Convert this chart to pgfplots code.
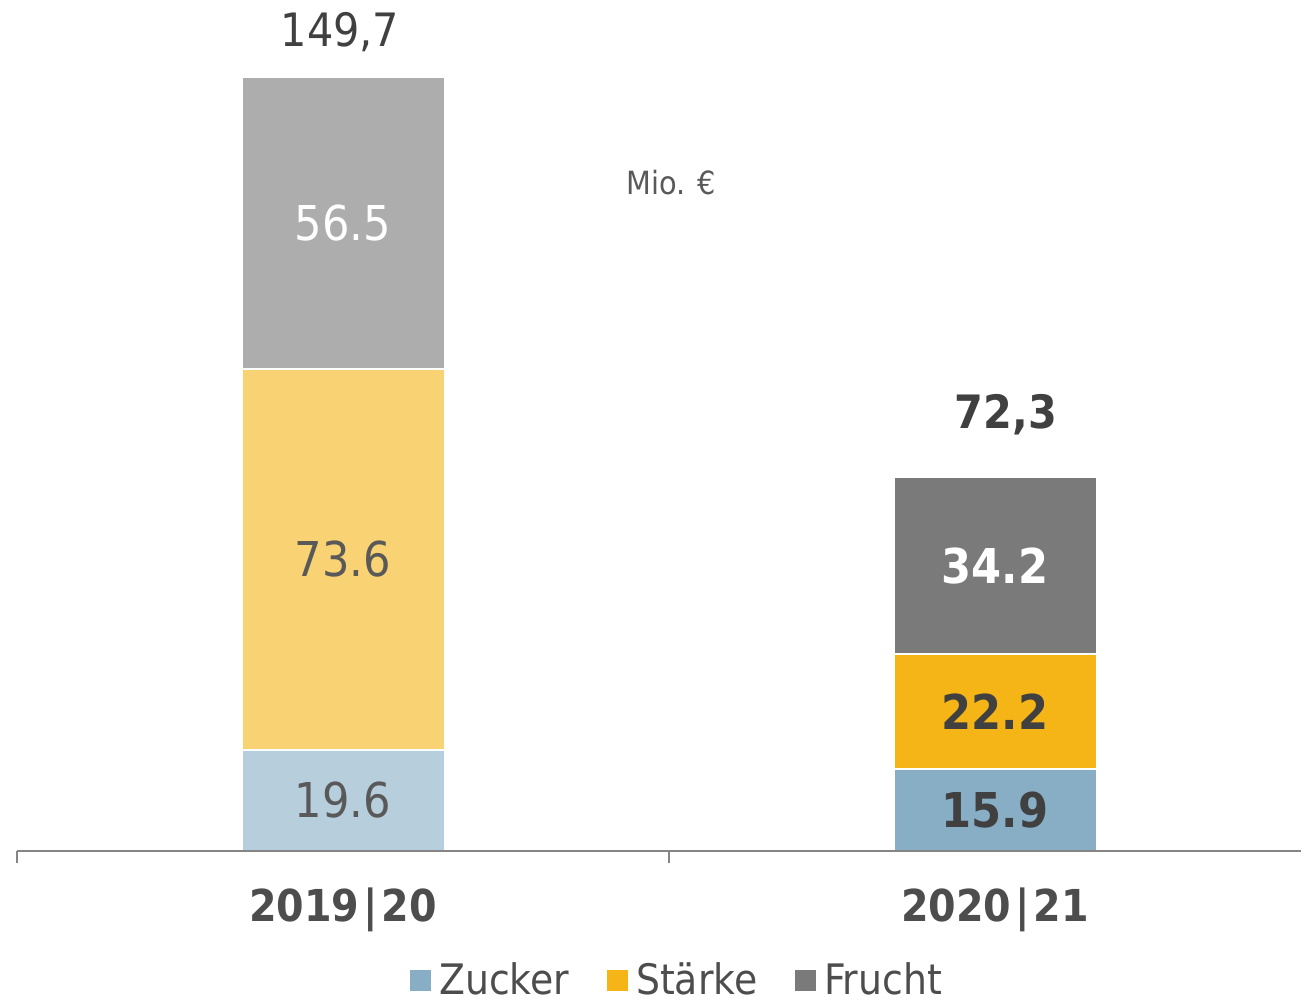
\documentclass[border=0pt]{standalone}
\usepackage{fontspec}
\setmainfont{DejaVu Sans Condensed}
\usepackage{pgfplots}
\pgfplotsset{compat=1.18}
\definecolor{zuckerL}{HTML}{B7CFDC}
\definecolor{staerkeL}{HTML}{F9D273}
\definecolor{fruchtL}{HTML}{ADADAD}
\definecolor{zucker}{HTML}{87AEC5}
\definecolor{staerke}{HTML}{F5B516}
\definecolor{frucht}{HTML}{7A7A7A}
\definecolor{axisgray}{HTML}{858585}
\definecolor{txtgray}{HTML}{595959}
\definecolor{darkgray}{HTML}{404040}
\definecolor{catgray}{HTML}{4D4D4D}
\newcommand{\fs}[1]{\fontsize{#1}{#1}\selectfont}

\begin{document}
\begin{tikzpicture}
\useasboundingbox (-8.5pt,-75.5pt) rectangle (642pt,425.5pt);
\pgfplotsset{chartbox/.style={
  scale only axis, width=652pt, height=425.5pt,
  xmin=-0.5, xmax=1.5, ymin=0, ymax=164.59,
  clip=false, at={(0pt,0pt)}, anchor=south west}}

% 2019|20 bar
\begin{axis}[chartbox, ybar stacked, bar width=101.5pt, hide axis]
\addplot[fill=zuckerL, draw=white, line width=1pt] coordinates {(0,19.6)};
\addplot[fill=staerkeL, draw=white, line width=1pt] coordinates {(0,73.6)};
\addplot[fill=fruchtL, draw=white, line width=1pt] coordinates {(0,56.5)};
\end{axis}

% 2020|21 bar and legend
\begin{axis}[chartbox, ybar stacked, bar width=101.5pt, hide axis,
  legend columns=-1,
  legend style={at={(0.507,-0.152)}, anchor=center, draw=none, fill=none,
    font=\fs{21}, text=catgray, inner sep=0pt,
    /tikz/every odd column/.append style={column sep=2pt},
    /tikz/every even column/.append style={column sep=17pt}},
  legend image code/.code={\fill[#1, draw=none] (0pt,-5.25pt) rectangle (10.5pt,5.25pt);},
]
\addplot[fill=zucker, draw=white, line width=1pt] coordinates {(1,15.9)};
\addplot[fill=staerke, draw=white, line width=1pt] coordinates {(1,22.2)};
\addplot[fill=frucht, draw=white, line width=1pt] coordinates {(1,34.2)};
\legend{Zucker, Stärke, Frucht}
\end{axis}

% axis line, categories, value labels and totals
\begin{axis}[chartbox,
  axis x line*=bottom, axis y line=none,
  x axis line style={draw=axisgray, line width=0.75pt},
  xtick={-0.5,0.5,1.5}, x tick label as interval,
  xticklabels={2019\kern2pt|\kern2pt20, 2020\kern2pt|\kern2pt21},
  tick align=outside, major tick length=6pt,
  tick style={draw=axisgray, line width=0.75pt},
  xticklabel style={anchor=base, yshift=-29pt, text=catgray, font=\bfseries\fs{22}},
  ytick=\empty,
]
\addplot[draw=none, nodes near coords, point meta=explicit symbolic,
  every node near coord/.append style={anchor=center, text=txtgray, font=\fs{24}}]
  coordinates {(0,9.8) [19.6] (0,56.4) [73.6]};
\addplot[draw=none, nodes near coords, point meta=explicit symbolic,
  every node near coord/.append style={anchor=center, text=white, font=\fs{24}}]
  coordinates {(0,121.45) [56.5]};
\addplot[draw=none, nodes near coords, point meta=explicit symbolic,
  every node near coord/.append style={anchor=center, text=darkgray, font=\bfseries\fs{24}}]
  coordinates {(1,7.95) [15.9] (1,27.0) [22.2]};
\addplot[draw=none, nodes near coords, point meta=explicit symbolic,
  every node near coord/.append style={anchor=center, text=white, font=\bfseries\fs{24}}]
  coordinates {(1,55.2) [34.2]};
\addplot[draw=none, nodes near coords, point meta=explicit symbolic,
  every node near coord/.append style={anchor=base, yshift=15pt, xshift=-1.5pt, text=darkgray, font=\fs{23}}]
  coordinates {(0,149.7) [{149,7}]};
\addplot[draw=none, nodes near coords, point meta=explicit symbolic,
  every node near coord/.append style={anchor=base, yshift=24.5pt, xshift=5.5pt, text=darkgray, font=\bfseries\fs{23}}]
  coordinates {(1,72.3) [{72,3}]};
\node[anchor=base west, text=txtgray, font=\fs{16}, inner sep=0pt] at (axis cs:0.434,126.9) {Mio. €};
\end{axis}
\end{tikzpicture}
\end{document}
